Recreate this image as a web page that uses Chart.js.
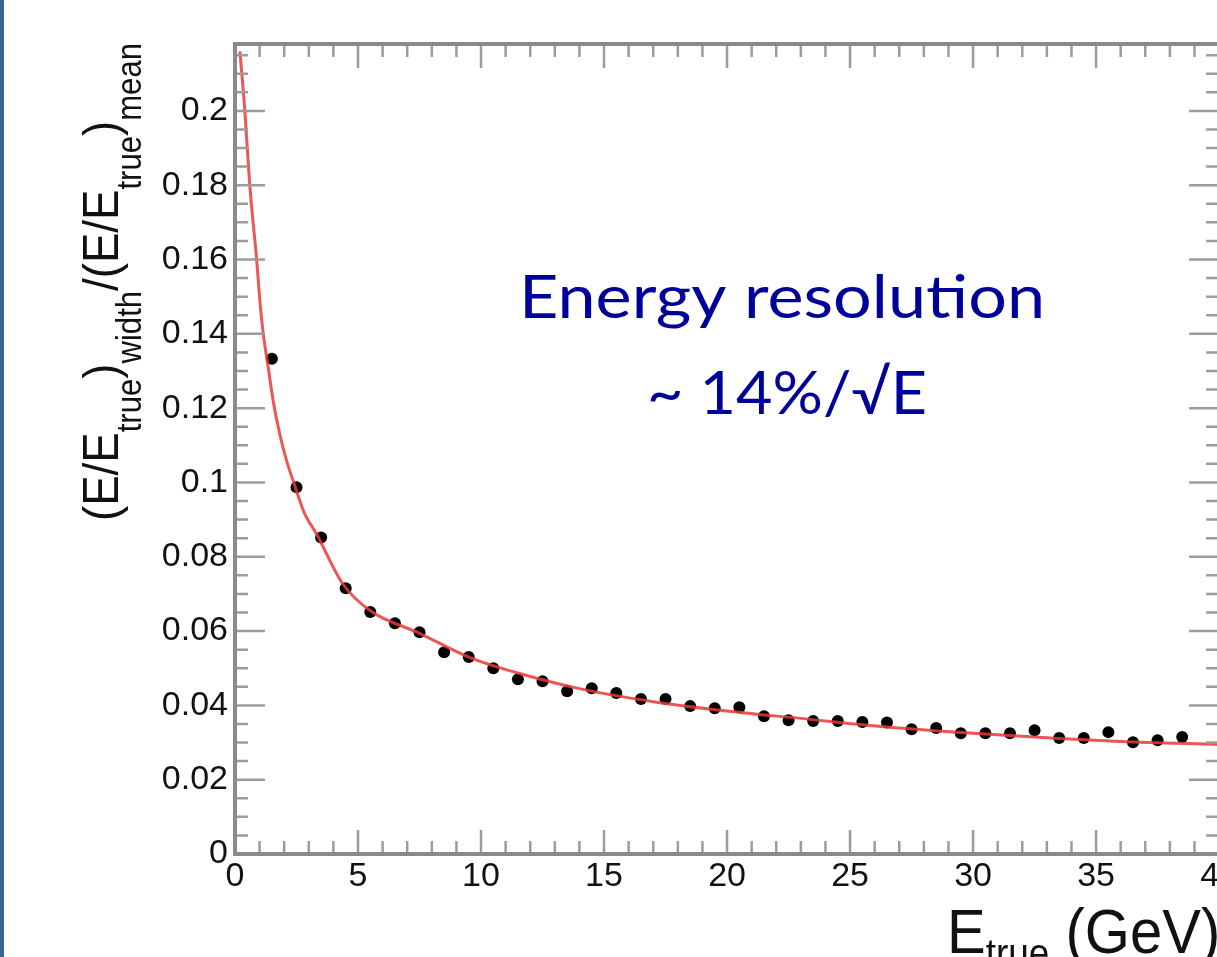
<!DOCTYPE html>
<html>
<head>
<meta charset="utf-8">
<script src="https://cdn.jsdelivr.net/npm/chart.js@4.4.1/dist/chart.umd.min.js"></script>
<style>
  html, body { margin: 0; padding: 0; background: #fff; overflow: hidden; }
  #wrap { position: relative; width: 1217px; height: 957px; overflow: hidden; }
  #resChart { position: absolute; left: 0; top: 0; }
  #bar { position: absolute; left: 0; top: 0; width: 4px; height: 957px; background: #3b6196; }
</style>
</head>
<body>
<div id="wrap">
  <canvas id="resChart" width="1240" height="957"></canvas>
  <div id="bar"></div>
</div>
<script>
// measured points (E_true in GeV, relative width)
const energy = [1.5, 2.5, 3.5, 4.5, 5.5, 6.5, 7.5, 8.5, 9.5, 10.5,
                11.5, 12.5, 13.5, 14.5, 15.5, 16.5, 17.5, 18.5, 19.5, 20.5,
                21.5, 22.5, 23.5, 24.5, 25.5, 26.5, 27.5, 28.5, 29.5, 30.5,
                31.5, 32.5, 33.5, 34.5, 35.5, 36.5, 37.5, 38.5];
const resolution = [0.1333, 0.0987, 0.0852, 0.0715, 0.0651, 0.0621, 0.0597, 0.0543, 0.0530, 0.0500,
                    0.0470, 0.0465, 0.0438, 0.0446, 0.0433, 0.0417, 0.0417, 0.0398, 0.0392, 0.0395,
                    0.0371, 0.0360, 0.0358, 0.0358, 0.0355, 0.0354, 0.0336, 0.0339, 0.0325, 0.0325,
                    0.0325, 0.0333, 0.0312, 0.0312, 0.0328, 0.0301, 0.0306, 0.0315];

// red fit curve
const fitE = [0.2, 0.4, 0.6, 0.88, 1.01, 1.15, 1.35, 1.55, 1.82, 2.09, 2.36, 2.83, 3.31,
              4.37, 5.47, 7.5, 9.5, 11.5, 14, 17, 20, 23, 26.5, 30, 33, 36, 40];
const fitRes = [0.216, 0.200, 0.180, 0.160, 0.149, 0.140, 0.131, 0.122, 0.113, 0.106, 0.1005, 0.0916, 0.0862,
                0.0728, 0.0656, 0.0594, 0.053, 0.0487, 0.0445, 0.041, 0.0385, 0.0365, 0.0342, 0.0325, 0.0313, 0.0303, 0.0295];

const xTicks = [0, 5, 10, 15, 20, 25, 30, 35, 40];
const yTicks = [0, 0.02, 0.04, 0.06, 0.08, 0.1, 0.12, 0.14, 0.16, 0.18, 0.2];

const tickFont = { family: '"Liberation Sans", Arial, sans-serif', size: 34 };

// ROOT-style frame with inward ticks on all four sides
const frameTicks = {
    id: 'frameTicks',
    afterDatasetsDraw(chart) {
        const { ctx, chartArea: a, scales: { x, y } } = chart;
        ctx.save();
        ctx.strokeStyle = '#9c9c9c';
        ctx.lineWidth = 2.5;
        ctx.beginPath();
        for (let v = 1; v < 40; v++) {
            const px = x.getPixelForValue(v);
            const len = v % 5 === 0 ? 24 : 13;
            ctx.moveTo(px, a.bottom); ctx.lineTo(px, a.bottom - len);
            ctx.moveTo(px, a.top); ctx.lineTo(px, a.top + len);
        }
        for (let i = 1; i * 0.005 < y.max; i++) {
            const py = y.getPixelForValue(i * 0.005);
            const len = i % 4 === 0 ? 30 : 13;
            ctx.moveTo(a.left, py); ctx.lineTo(a.left + len, py);
            ctx.moveTo(a.right, py); ctx.lineTo(a.right - len, py);
        }
        ctx.stroke();
        ctx.strokeStyle = '#8a8a8a';
        ctx.lineWidth = 4;
        ctx.strokeRect(a.left, a.top, a.right - a.left, a.bottom - a.top);
        ctx.restore();
    }
};

// axis titles with subscripts and the annotation
function drawPieces(ctx, pieces, mainFont, subFont, subShift) {
    let pos = 0;
    pieces.forEach(p => {
        ctx.font = p.sub ? subFont : mainFont;
        ctx.fillText(p.t, pos, p.sub ? subShift : 0);
        pos += ctx.measureText(p.t).width;
    });
}
function piecesWidth(ctx, pieces, mainFont, subFont) {
    return pieces.reduce((w, p) => {
        ctx.font = p.sub ? subFont : mainFont;
        return w + ctx.measureText(p.t).width;
    }, 0);
}
function fittedText(ctx, text, cx, base, width, font) {
    ctx.font = font;
    const w = ctx.measureText(text).width;
    ctx.save();
    ctx.translate(cx, base);
    ctx.scale(width / w, 1);
    ctx.textAlign = 'center';
    ctx.fillText(text, 0, 0);
    ctx.restore();
}

const titles = {
    id: 'titles',
    afterDraw(chart) {
        const ctx = chart.ctx;
        ctx.save();
        ctx.fillStyle = '#111';
        ctx.textBaseline = 'alphabetic';
        ctx.textAlign = 'left';

        // y title, rotated
        const yPieces = [
            { t: '(E/E' }, { t: 'true', sub: true }, { t: ')' }, { t: 'width', sub: true },
            { t: '/(E/E' }, { t: 'true', sub: true }, { t: ')' }, { t: 'mean', sub: true }
        ];
        const yMain = '44px "Liberation Sans", Arial, sans-serif';
        const ySub = '30px "Liberation Sans", Arial, sans-serif';
        const yLen = piecesWidth(ctx, yPieces, yMain, ySub);
        ctx.save();
        ctx.translate(118, 521);
        ctx.rotate(-Math.PI / 2);
        ctx.scale(478 / yLen, 1.15);
        drawPieces(ctx, yPieces, yMain, ySub, 20);
        ctx.restore();

        // x title
        const xPieces = [{ t: 'E' }, { t: 'true', sub: true }, { t: ' (GeV)' }];
        ctx.save();
        ctx.translate(947, 953);
        ctx.scale(1, 1.1);
        drawPieces(ctx, xPieces, '58px "Liberation Sans", Arial, sans-serif',
                   '37px "Liberation Sans", Arial, sans-serif', 13);
        ctx.restore();

        // annotation
        ctx.fillStyle = '#00009a';
        fittedText(ctx, 'Energy resolution', 782, 318, 526, '60px Lato, "Open Sans", sans-serif');
        fittedText(ctx, '~ 14%/\u221AE', 787, 414, 280, '60px Lato, "Open Sans", sans-serif');
        ctx.restore();
    }
};

new Chart(document.getElementById('resChart').getContext('2d'), {
    type: 'scatter',
    data: {
        datasets: [{
            label: 'fit',
            data: fitE.map((e, i) => ({ x: e, y: fitRes[i] })),
            showLine: true,
            borderColor: 'rgba(232, 58, 56, 0.85)',
            borderWidth: 3,
            pointRadius: 0,
            cubicInterpolationMode: 'monotone',
            order: 0
        }, {
            label: 'data',
            data: energy.map((e, i) => ({ x: e, y: resolution[i] })),
            backgroundColor: '#000',
            borderWidth: 0,
            pointRadius: 6,
            order: 1
        }]
    },
    options: {
        responsive: false,
        devicePixelRatio: 1,
        animation: false,
        layout: { padding: { top: 44, right: 18, left: 0, bottom: 0 } },
        plugins: { legend: { display: false }, tooltip: { enabled: false } },
        scales: {
            x: {
                type: 'linear', min: 0, max: 40,
                grid: { display: false, drawTicks: false },
                border: { display: false },
                afterBuildTicks: s => { s.ticks = xTicks.map(v => ({ value: v })); },
                afterFit: s => { s.height = 103; },
                ticks: { font: tickFont, color: '#111', padding: 2, maxRotation: 0, autoSkip: false }
            },
            y: {
                min: 0, max: 0.218,
                grid: { display: false, drawTicks: false },
                border: { display: false },
                afterBuildTicks: s => { s.ticks = yTicks.map(v => ({ value: v })); },
                afterFit: s => { s.width = 235; },
                ticks: {
                    font: tickFont, color: '#111', padding: 7, autoSkip: false,
                    callback: v => String(parseFloat(v.toFixed(3)))
                }
            }
        }
    },
    plugins: [frameTicks, titles]
});
</script>
</body>
</html>
